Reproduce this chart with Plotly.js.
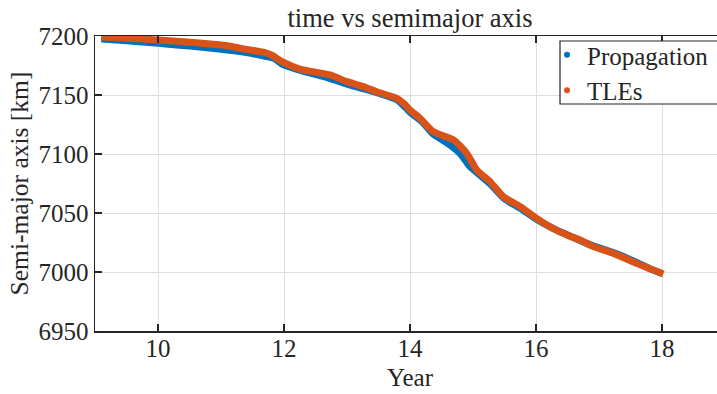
<!DOCTYPE html>
<html>
<head>
<meta charset="utf-8">
<script src="https://cdn.plot.ly/plotly-3.0.1.min.js"></script>
<style>
html,body{margin:0;padding:0;overflow:hidden;background:#fff;}
#chart{width:740px;height:394px;}
</style>
</head>
<body>
<div id="chart"></div>
<script>
// Propagation series (year, semi-major axis km)
const propYears = [9.1, 9.5, 10.0, 10.5, 11.0, 11.4, 11.7, 11.85, 11.97, 12.3, 12.7, 13.0, 13.5, 13.8, 14.0, 14.2, 14.37, 14.6, 14.8, 14.95, 15.1, 15.27, 15.5, 15.75, 16.0, 16.3, 16.5, 16.75, 17.0, 17.3, 17.6, 17.8, 18.0];
const propSMA   = [7197.5, 7196.0, 7193.8, 7191.5, 7188.8, 7186.0, 7182.8, 7180.8, 7176.2, 7170.2, 7164.5, 7159.2, 7151.5, 7145.8, 7135.5, 7127.0, 7116.8, 7109.0, 7100.2, 7089.5, 7082.5, 7074.8, 7062.0, 7054.0, 7045.0, 7036.2, 7031.5, 7025.5, 7020.5, 7015.0, 7008.0, 7003.0, 6998.8];
// TLE series
const tleYears = [9.1, 9.5, 10.0, 10.6, 11.1, 11.3, 11.7, 11.8, 11.97, 12.25, 12.73, 13.0, 13.21, 13.47, 13.79, 13.9, 14.0, 14.16, 14.37, 14.69, 14.9, 15.06, 15.27, 15.48, 15.75, 16.01, 16.25, 16.49, 16.7, 16.91, 17.23, 17.6, 18.02];
const tleSMA   = [7199.2, 7198.2, 7196.6, 7194.3, 7191.8, 7189.6, 7185.9, 7183.9, 7178.2, 7172.0, 7167.0, 7161.3, 7157.9, 7152.8, 7147.2, 7143.0, 7137.3, 7130.2, 7118.9, 7111.9, 7100.6, 7086.4, 7076.6, 7063.9, 7055.4, 7045.5, 7037.5, 7031.4, 7027.1, 7021.5, 7015.8, 7007.3, 6998.3];
const xTicks = [10, 12, 14, 16, 18];
const yTicks = [6950, 7000, 7050, 7100, 7150, 7200];
const seriesNames = ["Propagation", "TLEs"];
const seriesColors = ["#0072BD", "#D95319"];

const FONT = "Liberation Serif";
const TXT = "#262626";

const traces = [
  {x: propYears, y: propSMA, mode: "lines", line: {color: seriesColors[0], width: 7, shape: "spline", smoothing: 0.6}, showlegend: false, hoverinfo: "skip"},
  {x: tleYears, y: tleSMA, mode: "lines", line: {color: seriesColors[1], width: 7, shape: "spline", smoothing: 0.6}, showlegend: false, hoverinfo: "skip"},
  {x: [null], y: [null], mode: "markers", name: seriesNames[0], marker: {color: seriesColors[0], size: 6}},
  {x: [null], y: [null], mode: "markers", name: seriesNames[1], marker: {color: seriesColors[1], size: 6}}
];

const layout = {
  width: 740, height: 394,
  margin: {l: 95, r: 15, t: 36, b: 63},
  paper_bgcolor: "#fff", plot_bgcolor: "#fff",
  font: {family: FONT, size: 25, color: TXT},
  title: {text: "time vs semimajor axis", font: {family: FONT, size: 26.5, color: TXT}, x: 0.5, xref: "paper", y: 1 - 18/394, yref: "container", yanchor: "middle"},
  xaxis: {
    range: [9, 19], tickmode: "array", tickvals: xTicks, ticktext: xTicks.map(String),
    ticks: "inside", ticklen: 7, tickwidth: 1.2, tickcolor: TXT,
    showline: true, linecolor: TXT, linewidth: 1.5, mirror: "ticks",
    showgrid: true, gridcolor: "#dedede", gridwidth: 1, zeroline: false,
    tickfont: {family: FONT, size: 25, color: TXT}, ticklabelstandoff: -6,
    title: {text: "Year", font: {family: FONT, size: 25, color: TXT}, standoff: 8}
  },
  yaxis: {
    range: [6950, 7200], tickmode: "array", tickvals: yTicks, ticktext: yTicks.map(String),
    ticks: "inside", ticklen: 7, tickwidth: 1.2, tickcolor: TXT,
    showline: true, linecolor: TXT, linewidth: 1.5, mirror: "ticks",
    showgrid: true, gridcolor: "#dedede", gridwidth: 1, zeroline: false,
    tickfont: {family: FONT, size: 25, color: TXT},
    title: {text: "Semi-major axis [km]", font: {family: FONT, size: 25.5, color: TXT}, standoff: 2}
  },
  shapes: [{type: "rect", xref: "paper", yref: "paper", x0: (560-95)/630, x1: 1.2, y0: (331-104)/295, y1: (331-41)/295, line: {color: TXT, width: 1.2}, fillcolor: "#fff", layer: "above"}],
  showlegend: true,
  legend: {x: (547-95)/630, xanchor: "left", y: (331-32)/295, yanchor: "top", bgcolor: "rgba(0,0,0,0)", borderwidth: 0, font: {family: FONT, size: 25, color: TXT}, tracegroupgap: 0, itemwidth: 30}
};

Plotly.newPlot("chart", traces, layout, {staticPlot: true, displayModeBar: false});
</script>
</body>
</html>
